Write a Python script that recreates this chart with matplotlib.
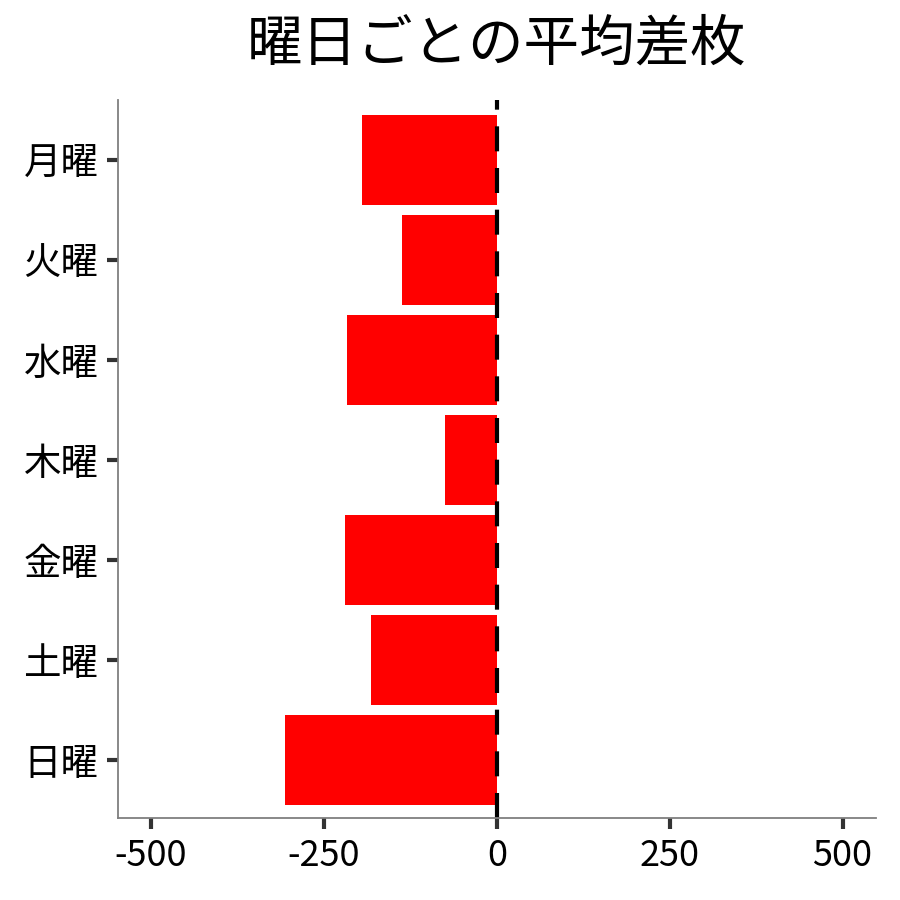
import matplotlib
matplotlib.use("Agg")
import matplotlib.pyplot as plt

plt.rcParams['font.family'] = ['Noto Sans CJK JP', 'DejaVu Sans']

# data
days = ['月曜', '火曜', '水曜', '木曜', '金曜', '土曜', '日曜']
avg_diff = [-195, -137, -217, -75, -220, -182, -307]
xticks = [-500, -250, 0, 250, 500]
xtick_labels = ['-500', '-250', '0', '250', '500']

fig = plt.figure(figsize=(9, 9), dpi=100)
ax = fig.add_axes([0.131, 0.091, 0.842, 0.798])

ypos = list(range(len(days)))
ax.barh(ypos, avg_diff, height=0.9, color='#ff0000')
ax.axvline(0, color='black', linewidth=3, linestyle=(0, (6, 4)))

ax.set_yticks(ypos)
ax.set_yticklabels(days, fontsize=27)
ax.set_ylim(len(days) - 0.42, -0.6)
ax.set_xticks(xticks)
ax.set_xticklabels(xtick_labels, fontsize=26)
ax.set_xlim(-548, 548)

ax.tick_params(axis='both', length=8, width=3, color='#333333', pad=6)
for side in ['top', 'right']:
    ax.spines[side].set_visible(False)
for side in ['left', 'bottom']:
    ax.spines[side].set_color('#7f7f7f')
    ax.spines[side].set_linewidth(1.3)

fig.text(0.552, 0.95, '曜日ごとの平均差枚', fontsize=40, ha='center', va='center')

fig.savefig('out.png', dpi=100)
